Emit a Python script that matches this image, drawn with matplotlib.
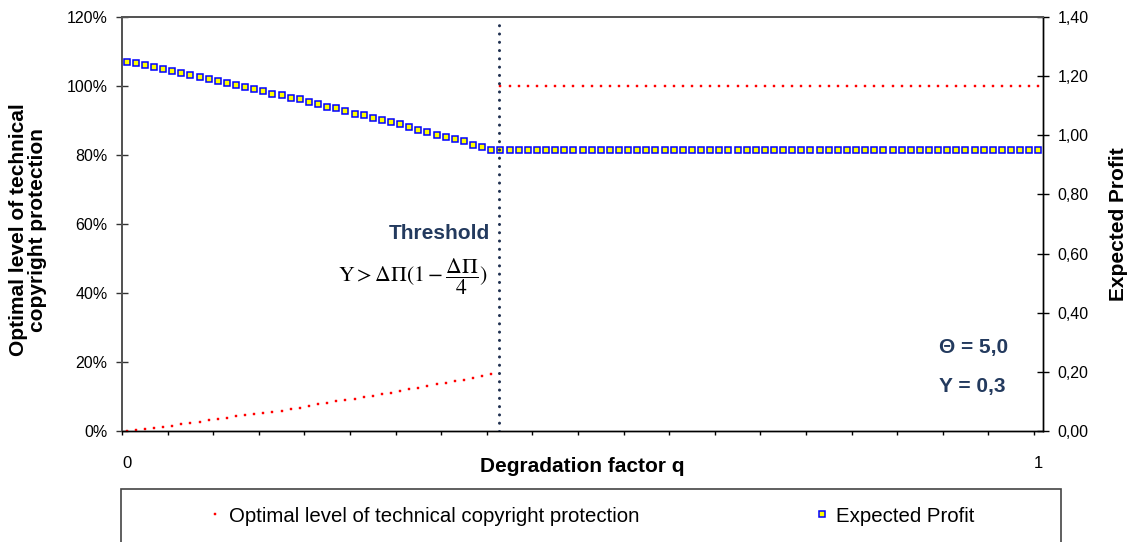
import numpy as np
import matplotlib
matplotlib.use("Agg")
import matplotlib.pyplot as plt
from matplotlib.lines import Line2D
from matplotlib.patches import Rectangle
from matplotlib.ticker import FixedLocator, FuncFormatter

plt.rcParams['font.family'] = ['Liberation Sans', 'DejaVu Sans']
plt.rcParams['mathtext.fontset'] = 'stix'

# ---- data ----
q = np.linspace(0, 1, 101)  # degradation factor categories (step 0.01)

protection_pct = [
    0.0, 0.4, 0.7, 0.9, 1.2, 1.5, 1.9, 2.3, 2.7, 3.1,
    3.5, 3.9, 4.3, 4.6, 4.8, 5.1, 5.5, 5.9, 6.3, 6.7,
    7.3, 7.8, 8.2, 8.6, 9.0, 9.4, 9.8, 10.2, 10.6, 11.0,
    11.6, 12.1, 12.5, 12.9, 13.6, 14.0, 14.4, 14.8, 15.5, 16.0,
    16.4,
    100, 100, 100, 100, 100, 100, 100, 100, 100, 100,
    100, 100, 100, 100, 100, 100, 100, 100, 100, 100,
    100, 100, 100, 100, 100, 100, 100, 100, 100, 100,
    100, 100, 100, 100, 100, 100, 100, 100, 100, 100,
    100, 100, 100, 100, 100, 100, 100, 100, 100, 100,
    100, 100, 100, 100, 100, 100, 100, 100, 100, 100,
]

expected_profit = [
    1.248, 1.243, 1.239, 1.230, 1.225, 1.216, 1.212, 1.203, 1.198, 1.189,
    1.185, 1.176, 1.171, 1.162, 1.158, 1.149, 1.140, 1.135, 1.126, 1.122,
    1.113, 1.105, 1.096, 1.091, 1.082, 1.073, 1.069, 1.060, 1.051, 1.046,
    1.037, 1.028, 1.019, 1.010, 1.001, 0.995, 0.986, 0.982, 0.968, 0.959,
    0.950,
    0.95, 0.95, 0.95, 0.95, 0.95, 0.95, 0.95, 0.95, 0.95, 0.95,
    0.95, 0.95, 0.95, 0.95, 0.95, 0.95, 0.95, 0.95, 0.95, 0.95,
    0.95, 0.95, 0.95, 0.95, 0.95, 0.95, 0.95, 0.95, 0.95, 0.95,
    0.95, 0.95, 0.95, 0.95, 0.95, 0.95, 0.95, 0.95, 0.95, 0.95,
    0.95, 0.95, 0.95, 0.95, 0.95, 0.95, 0.95, 0.95, 0.95, 0.95,
    0.95, 0.95, 0.95, 0.95, 0.95, 0.95, 0.95, 0.95, 0.95, 0.95,
]

threshold_q = 0.408
left_ticks = [0, 20, 40, 60, 80, 100, 120]
right_ticks = [0.0, 0.2, 0.4, 0.6, 0.8, 1.0, 1.2, 1.4]
x_label_ticks = [0, 1]
x_minor_ticks = [-0.005 + 0.05 * k for k in range(21)]

series1_name = "Optimal level of technical copyright protection"
series2_name = "Expected Profit"

NAVY = '#233a5e'

W, H = 1130, 542
fig = plt.figure(figsize=(W / 100, H / 100), dpi=100)
L, R, T, B = 122, 1043, 17, 431
ax = fig.add_axes([L / W, 1 - B / H, (R - L) / W, (B - T) / H])
ax2 = ax.twinx()

RED_MS = 2.1
BLUE_MS = 3.8

# series
ax.plot(q, protection_pct, linestyle='none', marker='s', markersize=RED_MS,
        markerfacecolor='#ff0000', markeredgecolor='#ff0000', markeredgewidth=0.3,
        zorder=3)
ax2.plot(q, expected_profit, linestyle='none', marker='s', markersize=BLUE_MS,
         markerfacecolor='#ffff00', markeredgecolor='#0000ff', markeredgewidth=1.1,
         zorder=3)
ax2.axvline(threshold_q, color='#1f3050', linewidth=2.2,
            linestyle=(0, (0.01, 2.7)), dash_capstyle='round', zorder=4)

# axes limits
ax.set_xlim(-0.005, 1.005)
ax.set_ylim(0, 120)
ax2.set_ylim(0, 1.4)

# ticks
ax.yaxis.set_major_locator(FixedLocator(left_ticks))
ax.yaxis.set_major_formatter(FuncFormatter(lambda v, p: f"{int(round(v))}%"))
ax2.yaxis.set_major_locator(FixedLocator(right_ticks))
ax2.yaxis.set_major_formatter(FuncFormatter(lambda v, p: f"{v:.2f}".replace('.', ',')))
ax.xaxis.set_major_locator(FixedLocator(x_label_ticks))
ax.xaxis.set_major_formatter(FuncFormatter(lambda v, p: f"{int(round(v))}"))
ax.xaxis.set_minor_locator(FixedLocator(x_minor_ticks))

ax.tick_params(axis='y', which='major', direction='inout', length=8, width=1,
               color='#333333', labelsize=11.5, pad=6.5)
ax2.tick_params(axis='y', which='major', direction='inout', length=8, width=1,
                color='#000000', labelsize=11.5, pad=6.5)
ax.tick_params(axis='x', which='major', length=0, labelsize=12, pad=18)
ax.tick_params(axis='x', which='minor', direction='out', length=3, width=1,
               color='#000000')
ax2.tick_params(axis='x', which='both', length=0)

for a in (ax, ax2):
    a.spines['left'].set_color('#555555')
    a.spines['left'].set_linewidth(1.4)
    a.spines['top'].set_color('#555555')
    a.spines['top'].set_linewidth(1.4)
    a.spines['right'].set_color('#000000')
    a.spines['right'].set_linewidth(1.0)
    a.spines['bottom'].set_color('#000000')
    a.spines['bottom'].set_linewidth(1.0)

# axis labels
ax.text(0.5, (B - 466) / (B - T), "Degradation factor q", transform=ax.transAxes,
        ha='center', va='center', fontsize=15, fontweight='bold')
fig.text(28 / W, 1 - 230 / H, "Optimal level of technical\ncopyright protection",
         rotation=90, ha='center', va='center', fontsize=15, fontweight='bold',
         multialignment='center', linespacing=1.0)
fig.text(1118 / W, 1 - 224 / H, "Expected Profit", rotation=90, ha='center',
         va='center', fontsize=15, fontweight='bold')

# annotations
fig.text(490 / W, 1 - 233 / H, "Threshold", ha='right', va='center',
         fontsize=15, fontweight='bold', color=NAVY)
fig.text(488 / W, 1 - 277 / H,
         r'$\mathrm{Y} > \Delta\Pi(1-\dfrac{\Delta\Pi}{4})$',
         ha='right', va='center', fontsize=15.7, color='black')
fig.text(939 / W, 1 - 347.5 / H, "Θ = 5,0", ha='left', va='center',
         fontsize=15, fontweight='bold', color=NAVY)
fig.text(939 / W, 1 - 386.5 / H, "Y = 0,3", ha='left', va='center',
         fontsize=15, fontweight='bold', color=NAVY)

# legend box
fig.patches.append(Rectangle((121 / W, -0.02), (1061 - 121) / W, (H - 489) / H + 0.02,
                             transform=fig.transFigure, fill=False,
                             edgecolor='#444444', linewidth=1.2))
h1 = Line2D([], [], linestyle='none', marker='s', markersize=RED_MS,
            markerfacecolor='#ff0000', markeredgecolor='#ff0000', markeredgewidth=0.3)
h2 = Line2D([], [], linestyle='none', marker='s', markersize=BLUE_MS,
            markerfacecolor='#ffff00', markeredgecolor='#0000ff', markeredgewidth=1.1)
fig.legend([h1, h2], [series1_name, series2_name], loc='center left',
           bbox_to_anchor=(209 / W, 1 - 516 / H), ncol=2, frameon=False,
           fontsize=14.7, handlelength=0.6, handletextpad=0.4,
           columnspacing=8.6, borderpad=0, borderaxespad=0)

fig.savefig("out.png", dpi=100)
